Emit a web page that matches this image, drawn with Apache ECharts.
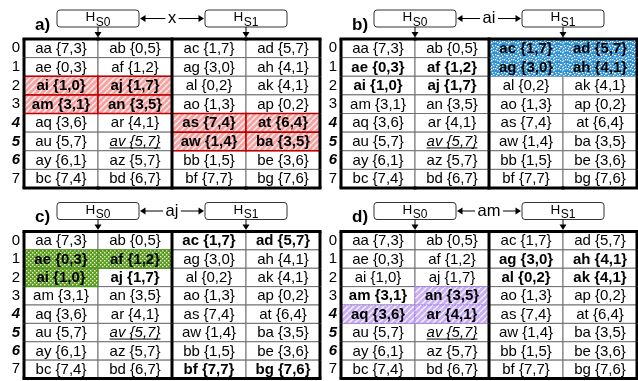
<!DOCTYPE html>
<html><head><meta charset="utf-8">
<script src="https://cdn.jsdelivr.net/npm/echarts@6/dist/echarts.min.js"></script>
<style>html,body{margin:0;padding:0;background:#fff}#c{width:638px;height:381px}</style>
</head><body><div id="c"></div>
<script>
// ---------- data ----------
const columns = ['c0', 'c1', 'c2', 'c3'];
const rowLabels = ['0', '1', '2', '3', '4', '5', '6', '7'];
const emphasizedRows = [4, 5, 6];
const cellNames = [
  ['aa {7,3}', 'ab {0,5}', 'ac {1,7}', 'ad {5,7}'],
  ['ae {0,3}', 'af {1,2}', 'ag {3,0}', 'ah {4,1}'],
  ['ai {1,0}', 'aj {1,7}', 'al {0,2}', 'ak {4,1}'],
  ['am {3,1}', 'an {3,5}', 'ao {1,3}', 'ap {0,2}'],
  ['aq {3,6}', 'ar {4,1}', 'as {7,4}', 'at {6,4}'],
  ['au {5,7}', 'av {5,7}', 'aw {1,4}', 'ba {3,5}'],
  ['ay {6,1}', 'az {5,7}', 'bb {1,5}', 'be {3,6}'],
  ['bc {7,4}', 'bd {6,7}', 'bf {7,7}', 'bg {7,6}']
];
const italicCells = [[5, 1]];              // [row, col]
const panelLabels = ['a)', 'b)', 'c)', 'd)'];
const transferLabels = ['x', 'ai', 'aj', 'am'];
const hostLabels = ['S0', 'S1'];
const fillKinds = ['red', 'blue', 'green', 'purple'];
const fillA = [[2,0],[2,1],[3,0],[3,1],[4,2],[4,3],[5,2],[5,3]];
const boldA = [[2,0],[2,1],[3,0],[3,1],[4,2],[4,3],[5,2],[5,3]];
const fillB = [[0,2],[0,3],[1,2],[1,3]];
const boldB = [[0,2],[0,3],[1,2],[1,3],[1,0],[1,1],[2,0],[2,1]];
const fillC = [[1,0],[1,1],[2,0]];
const boldC = [[1,0],[1,1],[2,0],[2,1],[0,2],[0,3],[7,2],[7,3]];
const fillD = [[3,1],[4,0],[4,1]];
const boldD = [[3,0],[3,1],[4,0],[4,1],[1,2],[1,3],[2,2],[2,3]];
const panelFill = [fillA, fillB, fillC, fillD];
const panelBold = [boldA, boldB, boldC, boldD];

// ---------- layout ----------
const FONT = '"Liberation Sans", Arial, Helvetica, sans-serif';
const gridLeft = [24, 341];
const gridTop = [39, 231.5];
const gridW = 296;
const gridH = [149, 147];

// ---------- patterns ----------
function hatch(base, stripe, lw) {
  const cv = document.createElement('canvas'); cv.width = 6; cv.height = 6;
  const g = cv.getContext('2d');
  g.fillStyle = base; g.fillRect(0, 0, 6, 6);
  g.strokeStyle = stripe; g.lineWidth = lw;
  g.beginPath();
  for (let k = -6; k <= 12; k += 6) { g.moveTo(k, 6); g.lineTo(k + 6, 0); }
  g.stroke();
  return { image: cv, repeat: 'repeat' };
}
function dots(base, dot, pts, size, d) {
  const cv = document.createElement('canvas'); cv.width = size; cv.height = size;
  const g = cv.getContext('2d');
  g.fillStyle = base; g.fillRect(0, 0, size, size);
  g.fillStyle = dot;
  pts.forEach(p => g.fillRect(p[0], p[1], d, d));
  return { image: cv, repeat: 'repeat' };
}
const fillStyles = {
  red: { fill: hatch('#f4a2a2', 'rgba(255,255,255,0.8)', 1.5), stroke: '#c00000', lw: 1.5, dash: null },
  blue: { fill: dots('#2c90d4', '#ffffff', [[0,0],[3,1],[6,0],[1,3],[5,3],[2,6],[7,5],[4,7],[0,5],[4,4],[7,2],[2,1],[5,6]], 9, 1.3), stroke: '#5aaee6', lw: 1, dash: [1, 1] },
  green: { fill: dots('#5a9e1c', 'rgba(255,255,255,0.9)', [[0,0],[2,2]], 4, 1.4), stroke: '#4b8f18', lw: 1, dash: null },
  purple: { fill: hatch('#c9b0f4', 'rgba(255,255,255,0.85)', 1.4), stroke: '#a986e6', lw: 1.2, dash: [2, 1] }
};

const mctx = document.createElement('canvas').getContext('2d');
function textW(font, t) { mctx.font = font; return mctx.measureText(t).width; }
function has(list, r, c) { return list.some(p => p[0] === r && p[1] === c); }

// ---------- series ----------
const grids = [], xAxes = [], yAxes = [], series = [];
for (let p = 0; p < 4; p++) {
  const gl = gridLeft[p % 2], gt = gridTop[Math.floor(p / 2)], gh = gridH[Math.floor(p / 2)];
  grids.push({ left: gl, top: gt, width: gridW, height: gh, show: false, containLabel: false });
  xAxes.push({ gridIndex: p, type: 'category', data: columns, show: false });
  yAxes.push({
    gridIndex: p, type: 'category', data: rowLabels, inverse: true,
    axisLine: { show: false }, axisTick: { show: false }, splitLine: { show: false },
    axisLabel: {
      interval: 0, margin: 4, color: '#000', fontSize: 15, fontFamily: FONT,
      formatter: (v, i) => emphasizedRows.includes(i) ? '{e|' + v + '}' : v,
      rich: { e: { fontWeight: 'bold', fontStyle: 'italic', fontSize: 15, fontFamily: FONT, color: '#000' } }
    }
  });
  const items = [];
  for (let r = 0; r < rowLabels.length; r++) {
    for (let c = 0; c < columns.length; c++) {
      items.push([c, r]);
    }
  }
  const fills = panelFill[p], bolds = panelBold[p], kind = fillKinds[p];
  series.push({
    type: 'custom', coordinateSystem: 'cartesian2d', xAxisIndex: p, yAxisIndex: p,
    data: items,
    animation: false, silent: true,
    renderItem: function (params, api) {
      const c = api.value(0), r = api.value(1);
      const pt = api.coord([c, r]); const sz = api.size([1, 1]);
      const x0 = pt[0] - sz[0] / 2, y0 = pt[1] - sz[1] / 2, w = sz[0], h = sz[1];
      const filled = has(fills, r, c);
      const bold = has(bolds, r, c);
      const italic = has(italicCells, r, c);
      const fs = filled ? fillStyles[kind] : null;
      const children = [];
      children.push({
        type: 'rect', shape: { x: x0, y: y0, width: w, height: h }, z2: filled ? 5 : 1,
        style: filled ? { fill: fs.fill, stroke: fs.stroke, lineWidth: fs.lw, lineDash: fs.dash }
                      : { fill: '#fff', stroke: '#707070', lineWidth: 1 }
      });
      const txt = cellNames[r][c];
      children.push({
        type: 'text', z2: 20,
        style: {
          text: txt, x: pt[0], y: pt[1] + 0.5, align: 'center', verticalAlign: 'middle',
          fontSize: 15, fontFamily: FONT, fontWeight: bold ? 'bold' : 'normal',
          fontStyle: italic ? 'italic' : 'normal', fill: '#000'
        }
      });
      if (italic) {
        const tw = textW('italic 15px ' + FONT, txt);
        children.push({ type: 'line', z2: 20, shape: { x1: pt[0] - tw / 2, y1: pt[1] + 6.5, x2: pt[0] + tw / 2, y2: pt[1] + 6.5 },
          style: { stroke: '#000', lineWidth: 1 } });
      }
      const thick = { stroke: '#000', lineWidth: 3 };
      if (r === 0) children.push({ type: 'line', z2: 50, shape: { x1: x0 - 1.5, y1: y0, x2: x0 + w + 1.5, y2: y0 }, style: thick });
      if (r === rowLabels.length - 1) children.push({ type: 'line', z2: 50, shape: { x1: x0 - 1.5, y1: y0 + h, x2: x0 + w + 1.5, y2: y0 + h }, style: thick });
      if (c === 0 || c === 2) children.push({ type: 'line', z2: 50, shape: { x1: x0, y1: y0, x2: x0, y2: y0 + h }, style: thick });
      if (c === columns.length - 1) children.push({ type: 'line', z2: 50, shape: { x1: x0 + w, y1: y0, x2: x0 + w, y2: y0 + h }, style: thick });
      return { type: 'group', children: children };
    }
  });
}

// ---------- header annotations ----------
const graphics = [];
for (let p = 0; p < 4; p++) {
  const gl = gridLeft[p % 2], gt = gridTop[Math.floor(p / 2)];
  const colW = gridW / 4, bw = 82, bh = 17;
  const centers = [gl + colW, gl + 3 * colW];
  centers.forEach((cx, k) => {
    graphics.push({ type: 'rect', shape: { x: cx - bw / 2, y: gt - 29, width: bw, height: bh, r: 3 },
      style: { fill: '#fff', stroke: '#333', lineWidth: 1 } });
    const hw = textW('13.5px ' + FONT, 'H'), sw = textW('12px ' + FONT, hostLabels[k]);
    const sx = cx - (hw + sw + 0.5) / 2;
    graphics.push({ type: 'text', style: { text: 'H', x: sx, y: gt - 21.5, align: 'left', verticalAlign: 'middle', fontSize: 13.5, fontFamily: FONT, fill: '#000' } });
    graphics.push({ type: 'text', style: { text: hostLabels[k], x: sx + hw + 0.5, y: gt - 16.5, align: 'left', verticalAlign: 'middle', fontSize: 12, fontFamily: FONT, fill: '#000' } });
    graphics.push({ type: 'line', shape: { x1: cx, y1: gt - 12, x2: cx, y2: gt - 6 }, style: { stroke: '#000', lineWidth: 1 } });
    graphics.push({ type: 'polygon', shape: { points: [[cx - 3.5, gt - 7], [cx + 3.5, gt - 7], [cx, gt - 1.5]] }, style: { fill: '#000' } });
  });
  graphics.push({ type: 'text', style: { text: panelLabels[p], x: gl + 11, y: gt - 14, align: 'left', verticalAlign: 'middle', fontSize: 17, fontWeight: 'bold', fontFamily: FONT, fill: '#000' } });
  const e0 = centers[0] + bw / 2, e1 = centers[1] - bw / 2, mid = (e0 + e1) / 2, ty = gt - 20.5;
  const tl = transferLabels[p];
  const tw = textW('16.5px ' + FONT, tl);
  graphics.push({ type: 'text', style: { text: tl, x: mid, y: ty, align: 'center', verticalAlign: 'middle', fontSize: 16.5, fontFamily: FONT, fill: '#000' } });
  const la = mid - tw / 2 - 2.5, ra = mid + tw / 2 + 2.5;
  graphics.push({ type: 'line', shape: { x1: la, y1: ty, x2: e0 + 4, y2: ty }, style: { stroke: '#000', lineWidth: 1 } });
  graphics.push({ type: 'polygon', shape: { points: [[e0 + 1, ty], [e0 + 6.5, ty - 3.5], [e0 + 6.5, ty + 3.5]] }, style: { fill: '#000' } });
  graphics.push({ type: 'line', shape: { x1: ra, y1: ty, x2: e1 - 4, y2: ty }, style: { stroke: '#000', lineWidth: 1 } });
  graphics.push({ type: 'polygon', shape: { points: [[e1 - 1, ty], [e1 - 6.5, ty - 3.5], [e1 - 6.5, ty + 3.5]] }, style: { fill: '#000' } });
}

const chart = echarts.init(document.getElementById('c'), null, { renderer: 'canvas' });
chart.setOption({
  animation: false,
  backgroundColor: '#fff',
  grid: grids, xAxis: xAxes, yAxis: yAxes, series: series,
  graphic: graphics
});
</script></body></html>
